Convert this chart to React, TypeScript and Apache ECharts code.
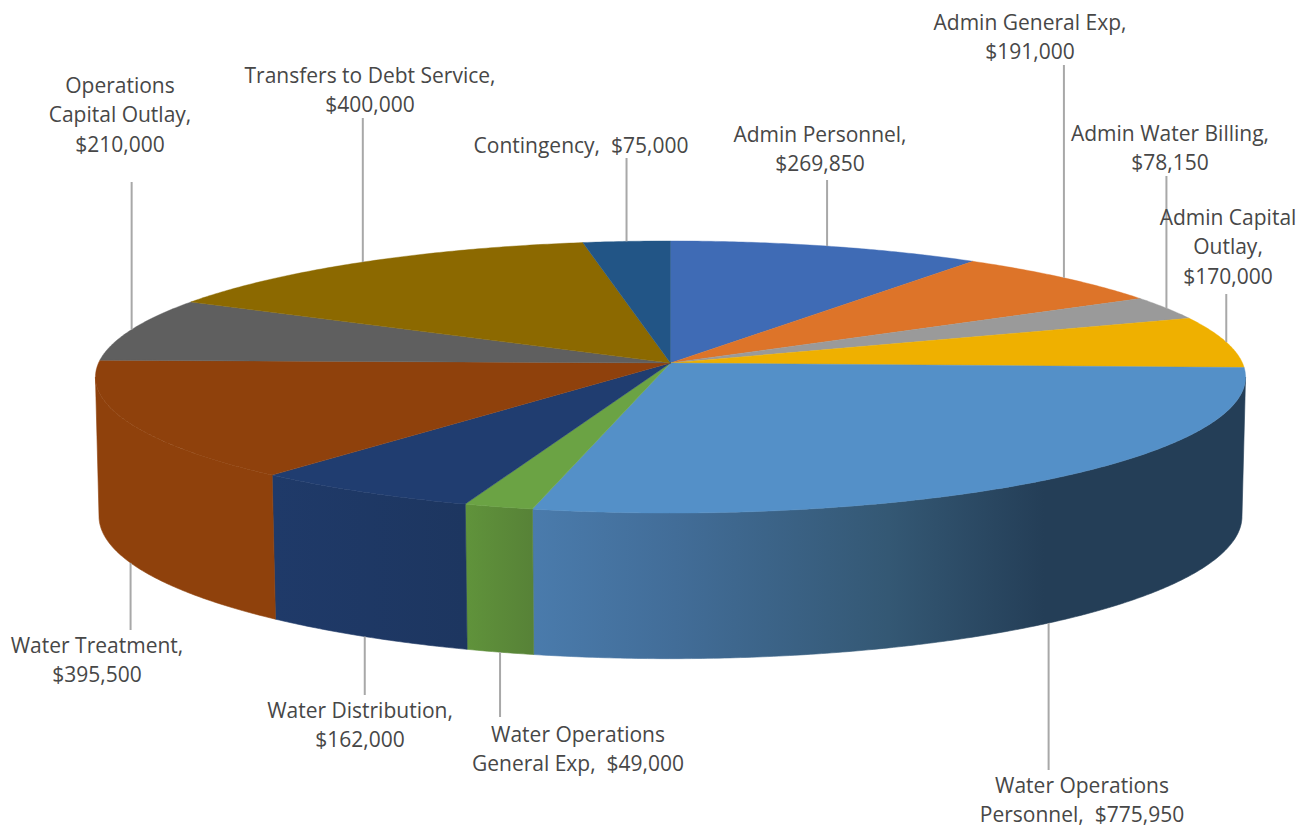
import React, { useEffect, useRef } from "react";
import * as echarts from "echarts";

// Budget lines, clockwise from twelve o'clock.
const categories = [
  "Admin Personnel",
  "Admin General Exp",
  "Admin Water Billing",
  "Admin Capital\nOutlay",
  "Water Operations\nPersonnel",
  "Water Operations\nGeneral Exp",
  "Water Distribution",
  "Water Treatment",
  "Operations\nCapital Outlay",
  "Transfers to Debt Service",
  "Contingency",
];
const amounts = [269850, 191000, 78150, 170000, 775950, 49000, 162000, 395500, 210000, 400000, 75000];
const valueSeparators = [",\n", ",\n", ",\n", ",\n", ",  ", ",  ", ",\n", ",\n", ",\n", ",\n", ",  "];

const topColors = [
  "#3F6BB5", "#DD7429", "#9A9A9A", "#EFB000", "#5490C8", "#6BA344",
  "#203D70", "#8F410C", "#5F5F5F", "#8C6900", "#225586",
];
// Side walls: a plain colour, or a left-to-right ramp across the slice.
const wallColors: Array<string | Array<[number, string]>> = [
  "#3F6BB5",
  "#C0641F",
  "#808080",
  "#C99400",
  [[0, "#4A7BAC"], [0.2, "#426D98"], [0.5, "#345874"], [0.72, "#243E57"], [1, "#243E57"]],
  [[0, "#60933B"], [1, "#578237"]],
  [[0, "#1F3A69"], [1, "#1D3660"]],
  "#8F410C",
  "#505050",
  "#705400",
  "#1B456C",
];
const wallSpans: Array<[number, number]> = [
  [0, 1], [0, 1], [0, 1], [0, 1], [533, 1243], [466, 533], [273, 466], [97, 275], [0, 1], [0, 1], [0, 1],
];

// Perspective disc: top rim and bottom rim.
const TOP = { cx: 670.5, cy: 363, a: 572, b: 134.6, k: 0.103 };
const BOTTOM = { cx: 670.5, cy: 502, a: 568.6, b: 141, k: 0.1 };
// The side wall is visible between the disc's left and right extremes.
const WALL_FROM = 95.9;
const WALL_TO = 264.1;

// Centre x and top y of each label block, and where its leader stops.
const labelBoxes: Array<[number, number]> = [
  [820, 119], [1030, 7], [1170, 118], [1228, 202], [1082, 770],
  [578, 719], [360, 695], [97, 630], [120, 70], [370, 60], [581, 130],
];
const leaderEnds = [180, 65, 176, 294, 770, 717, 695, 630, 182, 118, 158];

const FONT_SIZE = 21;
const LINE_HEIGHT = 29.5;
const TOTAL = amounts.reduce((s, v) => s + v, 0);

type Rim = typeof TOP;
const project = (r: Rim, deg: number): [number, number] => {
  const t = (deg * Math.PI) / 180;
  const u = Math.sin(t);
  const v = Math.cos(t);
  const d = 1 + r.k * v;
  return [r.cx + (r.a * u) / d, r.cy - (r.b * v) / d];
};
const arc = (r: Rim, from: number, to: number): Array<[number, number]> => {
  const n = Math.max(2, Math.ceil(Math.abs(to - from) * 2));
  const out: Array<[number, number]> = [];
  for (let i = 0; i <= n; i++) out.push(project(r, from + ((to - from) * i) / n));
  return out;
};
const money = (v: number) => "$" + v.toLocaleString("en-US");

function renderSlice(params: any, api: any) {
  const i = params.dataIndex;
  const value = api.value(1);
  let before = 0;
  for (let j = 0; j < i; j++) before += amounts[j];
  const start = (before / TOTAL) * 360;
  const end = ((before + value) / TOTAL) * 360;
  const mid = (start + end) / 2;
  const children: any[] = [];

  const wallFrom = Math.max(start, WALL_FROM);
  const wallTo = Math.min(end, WALL_TO);
  if (wallTo > wallFrom) {
    const [x0, x1] = wallSpans[i];
    const tone = wallColors[i];
    const fill =
      typeof tone === "string"
        ? tone
        : new echarts.graphic.LinearGradient(
            x0, 0, x1, 0,
            tone.map(([offset, color]) => ({ offset, color })),
            true
          );
    children.push({
      type: "polygon",
      shape: { points: [...arc(TOP, wallFrom, wallTo), ...arc(BOTTOM, wallTo, wallFrom)] },
      style: { fill, stroke: fill, lineWidth: 0.6 },
    });
  }

  children.push({
    type: "polygon",
    shape: { points: [[TOP.cx, TOP.cy], ...arc(TOP, start, end)] },
    style: { fill: topColors[i], stroke: topColors[i], lineWidth: 0.4 },
  });

  const front = mid > 90 && mid < 270;
  const [ax, ay] = project(front ? BOTTOM : TOP, mid);
  children.push({
    type: "line",
    shape: { x1: ax, y1: ay, x2: ax, y2: leaderEnds[i] },
    style: { stroke: "#A8A8A8", lineWidth: 2 },
  });

  const [tx, ty] = labelBoxes[i];
  children.push({
    type: "text",
    style: {
      x: tx,
      y: ty,
      text: categories[i] + valueSeparators[i] + money(value),
      fill: "#474747",
      fontFamily: "'Open Sans'",
      fontSize: FONT_SIZE,
      lineHeight: LINE_HEIGHT,
      align: "center",
      verticalAlign: "top",
    },
    z2: 5,
  });

  return { type: "group", children };
}

export default function App() {
  const ref = useRef<HTMLDivElement>(null);
  useEffect(() => {
    const chart = echarts.init(ref.current!, undefined, { renderer: "svg" });
    chart.setOption({
      animation: false,
      backgroundColor: "#FFFFFF",
      series: [
        {
          type: "custom",
          coordinateSystem: "none",
          data: amounts.map((v, i) => [i, v]),
          renderItem: renderSlice,
          silent: true,
        },
      ],
    });
    return () => chart.dispose();
  }, []);
  return <div ref={ref} style={{ position: "fixed", left: 0, top: 0, width: 1308, height: 827 }} />;
}
